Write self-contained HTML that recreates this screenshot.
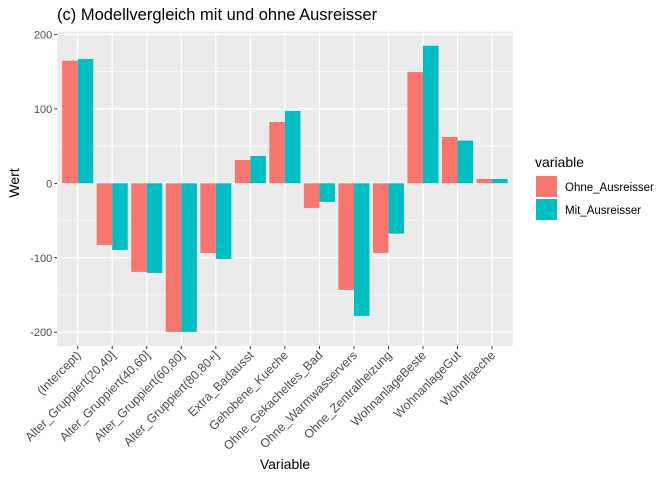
<!DOCTYPE html>
<html><head><meta charset="utf-8"><style>
body{margin:0;background:#fff;font-family:"Liberation Sans",sans-serif}
</style></head><body>
<svg width="672" height="480" viewBox="0 0 672 480" xmlns="http://www.w3.org/2000/svg" font-family="Liberation Sans, sans-serif">
<text x="57" y="20" font-size="16.5" fill="#000">(c) Modellvergleich mit und ohne Ausreisser</text>
<rect x="57.3" y="31.7" width="455.4" height="314.3" fill="#ebebeb"/>
<g id="grid"></g><g id="bars"></g><g id="axes"></g>
<text transform="translate(19,183) rotate(-90)" text-anchor="middle" font-size="14">Wert</text>
<text x="285" y="469" text-anchor="middle" font-size="14">Variable</text>
<g>
<text x="535" y="167" font-size="14">variable</text>
<rect x="536" y="176" width="21" height="21" fill="#f8766d"/>
<text x="565" y="191" font-size="11.5">Ohne_Ausreisser</text>
<rect x="536" y="199" width="21" height="21" fill="#00bfc4"/>
<text x="565" y="214" font-size="11.5">Mit_Ausreisser</text>
</g>
</svg>
<script>
const categories=["(Intercept)","Alter_Gruppiert(20,40]","Alter_Gruppiert(40,60]","Alter_Gruppiert(60,80]","Alter_Gruppiert(80,80+]","Extra_Badausst","Gehobene_Kueche","Ohne_Gekacheltes_Bad","Ohne_Warmwasservers","Ohne_Zentralheizung","WohnanlageBeste","WohnanlageGut","Wohnflaeche"];
const ohne=[164.7,-82.8,-119,-199.6,-93.5,31.3,82.3,-33.1,-143.2,-93.5,149.4,62.2,5.8];
const mit=[166.9,-89.5,-120.4,-199.6,-101.6,36.7,97.1,-25,-178.1,-67.6,184.8,57.3,5.8];
const yTicks=[-200,-100,0,100,200];
const yMinor=[-150,-50,50,150];
const NS="http://www.w3.org/2000/svg";
const y=v=>183.3-v*0.7445;
const step=34.53, x=i=>77.7+i*step, bw=step*0.45;
const L=57.3,R=512.7,T=31.7,B=346;
function mk(t,a,p){const e=document.createElementNS(NS,t);for(const k in a)e.setAttribute(k,a[k]);p.appendChild(e);return e;}
const g=document.getElementById('grid'),b=document.getElementById('bars'),ax=document.getElementById('axes');
yMinor.forEach(v=>{const l=mk('line',{x1:L,x2:R,y1:y(v),y2:y(v),stroke:'#fff','stroke-width':0.55},g);

});
yTicks.forEach(v=>{const l=mk('line',{x1:L,x2:R,y1:y(v),y2:y(v),stroke:'#fff','stroke-width':1.1},g);


const t=mk('line',{x1:L-3,x2:L,y1:y(v),y2:y(v),stroke:'#333','stroke-width':1},ax);


const tx=mk('text',{x:L-5,y:y(v)+4,'text-anchor':'end','font-size':11,fill:'#4d4d4d'},ax);tx.textContent=v;

});
categories.forEach((c,i)=>{const l=mk('line',{x1:x(i),x2:x(i),y1:T,y2:B,stroke:'#fff','stroke-width':1.1},g);


const t=mk('line',{x1:x(i),x2:x(i),y1:B,y2:B+3,stroke:'#333','stroke-width':1},ax);


const tx=mk('text',{transform:`translate(${x(i)+4},${B+10}) rotate(-45)`,'text-anchor':'end','font-size':12.3,fill:'#4d4d4d'},ax);tx.textContent=c;


[[ohne[i],'#f8766d',-bw,'bar-ohne'],[mit[i],'#00bfc4',0,'bar-mit']].forEach(([v,col,off,n])=>{
const r=mk('rect',{x:x(i)+off,y:Math.min(y(v),y(0)),width:bw,height:Math.abs(y(v)-y(0)),fill:col},b);

});});
</script>
</body></html>
